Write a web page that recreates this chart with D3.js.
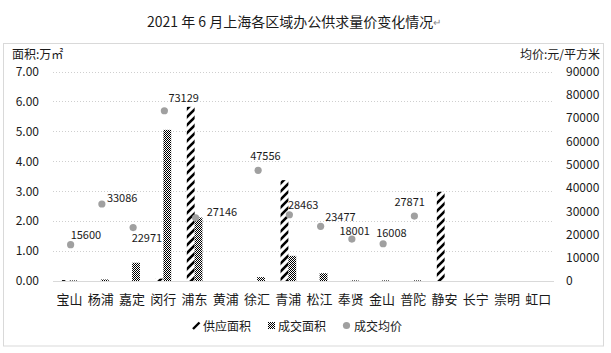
<!DOCTYPE html>
<html><head><meta charset="utf-8">
<script src="https://cdn.jsdelivr.net/npm/d3@7"></script>
<style>
body{margin:0;background:#fff}
svg{display:block}
text{font-family:"Noto Sans CJK SC","Noto Sans",sans-serif;fill:#1a1a1a}
</style>
</head><body><svg id="c" width="611" height="353"></svg>
<script>
// ---- data ----
const categories = ["宝山","杨浦","嘉定","闵行","浦东","黄浦","徐汇","青浦","松江","奉贤","金山","普陀","静安","长宁","崇明","虹口"];
const supplyArea = [0.03,0,0,0.08,5.82,0,0,3.37,0,0,0,0,2.98,0,0,0];
const dealArea   = [0.02,0.05,0.61,5.05,2.12,0,0.13,0.84,0.26,0.02,0.02,0.02,0,0,0,0];
const avgPrice   = [15600,33086,22971,73129,27146,null,47556,28463,23477,18001,16008,27871,null,null,null,null];
const leftTicks  = [0,1,2,3,4,5,6,7];
const rightTicks = [0,10000,20000,30000,40000,50000,60000,70000,80000,90000];
const seriesNames = ["供应面积","成交面积","成交均价"];
// label offsets (dx to text start, dy to text middle) relative to each point
const labelOffsets = [[0,-11],[5,-6.5],[-1.5,9.5],[4,-14],[11,-7],null,[-8,-15],[-1.5,-10.5],[4.5,-10],[-12.5,-9],[-7,-12],[-20,-15],null,null,null,null];

// ---- layout ----
const svg = d3.select("#c");
const W = 611, H = 353;
const x = d3.scaleBand().domain(categories).range([54, 554]).paddingInner(0).paddingOuter(0);
const yL = d3.scaleLinear().domain([0,7]).range([281,71.5]);
const yR = d3.scaleLinear().domain([0,90000]).range([281,71.5]);
const bw = x.bandwidth()/4;

const defs = svg.append("defs");
const hatch = defs.append("pattern").attr("id","hatch").attr("patternUnits","userSpaceOnUse")
  .attr("width",8).attr("height",8);
hatch.append("rect").attr("width",8).attr("height",8).attr("fill","#fff");
hatch.append("path").attr("d","M-2,2 L2,-2 M0,8 L8,0 M6,10 L10,6")
  .attr("stroke","#000").attr("stroke-width",2.6);
const checker = defs.append("pattern").attr("id","checker").attr("patternUnits","userSpaceOnUse")
  .attr("width",2).attr("height",2);
checker.append("rect").attr("width",2).attr("height",2).attr("fill","#fff");
checker.append("rect").attr("width",1).attr("height",1).attr("fill","#000");
checker.append("rect").attr("x",1).attr("y",1).attr("width",1).attr("height",1).attr("fill","#000");

// chart border
svg.append("rect").attr("x",3.5).attr("y",43.5).attr("width",600).attr("height",302.5)
  .attr("fill","none").attr("stroke","#d9d9d9").attr("stroke-width",1);

// title
const title = svg.append("text").attr("x",147).attr("y",21).attr("dominant-baseline","central")
  .attr("font-size",14);
title.append("tspan").text("2021 年 6 月上海各区域办公供求量价变化情况");
title.append("tspan").text("↵").attr("font-size",10).style("fill","#888");

// axis titles
svg.append("text").attr("x",12).attr("y",53).attr("dominant-baseline","central")
  .attr("font-size",12).text("面积:万㎡");
svg.append("text").attr("x",600).attr("y",53).attr("dominant-baseline","central")
  .attr("text-anchor","end").attr("font-size",12).text("均价:元/平方米");

// gridlines
svg.append("g").selectAll("line").data(leftTicks.filter(d=>d>0)).join("line")
  .attr("x1",53).attr("x2",554).attr("y1",d=>Math.round(yL(d))+0.5).attr("y2",d=>Math.round(yL(d))+0.5)
  .attr("stroke","#cfcfcf").attr("stroke-dasharray","1,2");

// left axis
const gl = svg.append("g").attr("transform","translate(42,0)")
  .call(d3.axisLeft(yL).tickValues(leftTicks).tickFormat(d3.format(".2f")).tickSize(0).tickPadding(3));
gl.select(".domain").remove();
gl.selectAll("text").attr("font-size",12).attr("font-family",null).style("fill","#1a1a1a");

// right axis
const gr = svg.append("g").attr("transform","translate(563,0)")
  .call(d3.axisRight(yR).tickValues(rightTicks).tickFormat(d3.format("d")).tickSize(0).tickPadding(3));
gr.select(".domain").remove();
gr.selectAll("text").attr("font-size",12).attr("font-family",null).style("fill","#1a1a1a");

// bars
const rows = categories.map((c,i)=>({c, s:supplyArea[i], d:dealArea[i], p:avgPrice[i], o:labelOffsets[i]}));
svg.append("g").selectAll("rect").data(rows).join("rect")
  .attr("x",d=>x(d.c)+x.bandwidth()/2-bw).attr("width",bw)
  .attr("y",d=>yL(d.s)).attr("height",d=>yL(0)-yL(d.s))
  .attr("fill","url(#hatch)");
svg.append("g").selectAll("rect").data(rows).join("rect")
  .attr("x",d=>x(d.c)+x.bandwidth()/2).attr("width",bw)
  .attr("y",d=>yL(d.d)).attr("height",d=>yL(0)-yL(d.d))
  .attr("fill","url(#checker)");

// baseline
svg.append("line").attr("x1",53).attr("x2",554).attr("y1",281.5).attr("y2",281.5)
  .attr("stroke","#d9d9d9").attr("stroke-width",1);

// category labels
svg.append("g").selectAll("text").data(categories).join("text")
  .attr("x",d=>x(d)+x.bandwidth()/2).attr("y",298).attr("text-anchor","middle")
  .attr("dominant-baseline","central").attr("font-size",13).text(d=>d);

// price points
const pts = rows.filter(d=>d.p!=null);
svg.append("g").selectAll("circle").data(pts).join("circle")
  .attr("cx",d=>x(d.c)+x.bandwidth()/2+1).attr("cy",d=>yR(d.p)).attr("r",3.6)
  .attr("fill","#a0a0a0");
svg.append("g").selectAll("text").data(pts).join("text")
  .attr("x",d=>x(d.c)+x.bandwidth()/2+1+d.o[0]).attr("y",d=>yR(d.p)+d.o[1])
  .attr("dominant-baseline","central").attr("font-size",11).text(d=>d.p);

// legend
const lg = svg.append("g");
lg.append("path").attr("d","M193,329 L199.5,322.5").attr("stroke","#000").attr("stroke-width",2.4);
lg.append("text").attr("x",203).attr("y",325.5).attr("dominant-baseline","central").attr("font-size",12).text(seriesNames[0]);
lg.append("rect").attr("x",268).attr("y",322).attr("width",7).attr("height",7).attr("fill","url(#checker)");
lg.append("text").attr("x",278).attr("y",325.5).attr("dominant-baseline","central").attr("font-size",12).text(seriesNames[1]);
lg.append("circle").attr("cx",346.5).attr("cy",325.5).attr("r",3.6).attr("fill","#a0a0a0");
lg.append("text").attr("x",354).attr("y",325.5).attr("dominant-baseline","central").attr("font-size",12).text(seriesNames[2]);
</script>
</body></html>
